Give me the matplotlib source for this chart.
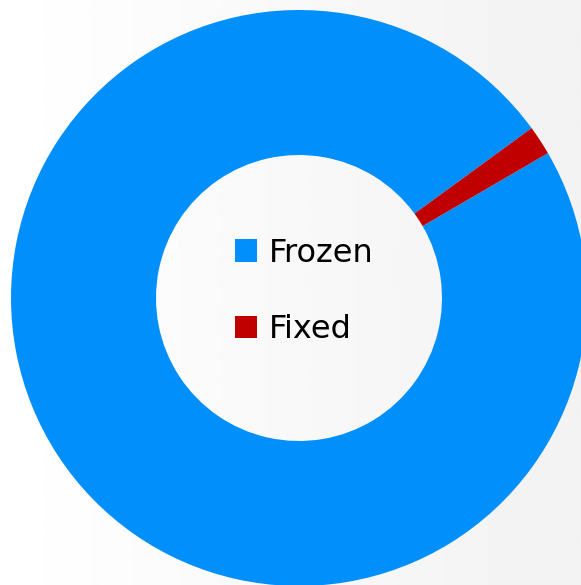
import matplotlib.pyplot as plt
import numpy as np

labels = ["Frozen", "Fixed"]
values = [98.35, 1.65]
colors = ["#008FFB", "#C00000"]

W, H = 581, 585
fig = plt.figure(figsize=(W / 100, H / 100), dpi=100)
ax = fig.add_axes([0, 0, 1, 1])

# soft white -> light grey background, left to right
grad = np.linspace(255, 242, 256) / 255.0
bg = np.tile(grad, (2, 1))
ax.imshow(bg, cmap="gray", vmin=0, vmax=1, extent=[0, W, 0, H],
          aspect="auto", zorder=0, interpolation="bilinear")

wedges, _ = ax.pie(values, colors=colors, startangle=30.2, counterclock=False,
                   radius=288, center=(299, H - 298),
                   wedgeprops=dict(width=145, edgecolor="none"), frame=True)
for w in wedges:
    w.set_zorder(2)
ax.set_xlim(0, W)
ax.set_ylim(0, H)
ax.set_aspect("equal")
ax.axis("off")

leg = ax.legend(wedges, labels, loc="center", bbox_to_anchor=(304, H - 291.5),
                bbox_transform=ax.transData, frameon=False,
                prop={"family": "DejaVu Sans", "size": 23},
                handlelength=0.69, handleheight=0.69, handletextpad=0.38,
                labelspacing=1.43)

fig.savefig("out.png", dpi=100)
